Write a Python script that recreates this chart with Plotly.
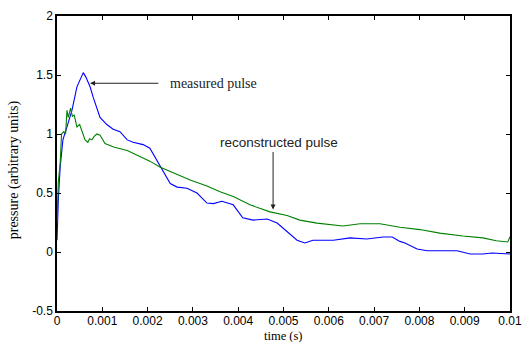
import plotly.graph_objects as go

# measured pulse (blue)
t_meas = [0, 0.00003, 0.00007, 0.00013, 0.00022, 0.00033, 0.00044, 0.00052, 0.00058, 0.00064,
          0.00073, 0.0008, 0.00095, 0.0011, 0.00124, 0.00139, 0.00155, 0.00168, 0.00183, 0.0019,
          0.00205, 0.0022, 0.00234, 0.0025, 0.00265, 0.00287, 0.00309, 0.00331, 0.00345, 0.00364,
          0.00389, 0.0041, 0.00433, 0.00464, 0.00486, 0.00508, 0.0053, 0.00547, 0.00565, 0.0061,
          0.00647, 0.00684, 0.0072, 0.0074, 0.00757, 0.00768, 0.00795, 0.00817, 0.00883, 0.00912,
          0.0094, 0.0096, 0.00978, 0.01]
p_meas = [0.10, 0.45, 0.72, 0.95, 1.06, 1.20, 1.40, 1.47, 1.52, 1.48,
          1.40, 1.31, 1.14, 1.08, 1.04, 1.02, 0.95, 0.93, 0.92, 0.91,
          0.88, 0.78, 0.68, 0.58, 0.55, 0.54, 0.50, 0.415, 0.41, 0.43,
          0.40, 0.29, 0.27, 0.28, 0.245, 0.17, 0.10, 0.076, 0.10, 0.10,
          0.12, 0.11, 0.127, 0.127, 0.09, 0.076, 0.025, 0.01, 0.01, -0.017,
          -0.017, -0.008, -0.01, -0.017]

# reconstructed pulse (green)
t_rec = [0, 0.00003, 0.00007, 0.0001, 0.00015, 0.00019, 0.00022, 0.00025, 0.0003, 0.00034,
         0.00038, 0.00044, 0.0005, 0.00055, 0.00062, 0.00068, 0.00072, 0.00077, 0.00082, 0.00088,
         0.00095, 0.00106, 0.00125, 0.00155, 0.00183, 0.00205, 0.00227, 0.00256, 0.00294, 0.00331,
         0.0036, 0.00389, 0.00426, 0.0047, 0.00508, 0.00536, 0.00574, 0.00631, 0.00669, 0.00713,
         0.00757, 0.00801, 0.00845, 0.00896, 0.0094, 0.0097, 0.00995, 0.01]
p_rec = [0.25, 0.60, 0.75, 1.0, 1.02, 1.0, 1.20, 1.14, 1.22, 1.15,
         1.16, 1.06, 1.08, 1.02, 0.95, 0.93, 0.96, 0.95, 0.98, 1.0,
         0.99, 0.92, 0.89, 0.86, 0.81, 0.77, 0.72, 0.67, 0.61, 0.56,
         0.51, 0.47, 0.40, 0.34, 0.31, 0.27, 0.245, 0.22, 0.24, 0.24,
         0.21, 0.19, 0.16, 0.135, 0.12, 0.095, 0.085, 0.13]

x_ticks = [0, 0.001, 0.002, 0.003, 0.004, 0.005, 0.006, 0.007, 0.008, 0.009, 0.01]
x_labels = ["0", "0.001", "0.002", "0.003", "0.004", "0.005", "0.006", "0.007", "0.008", "0.009", "0.01"]
y_ticks = [-0.5, 0, 0.5, 1, 1.5, 2]
y_labels = ["-0.5", "0", "0.5", "1", "1.5", "2"]

SANS = "Liberation Sans, Arial"
SERIF = "Liberation Serif, Times New Roman"

fig = go.Figure()
fig.add_trace(go.Scatter(x=t_meas, y=p_meas, mode="lines",
                         line=dict(color="#0000FF", width=1.1), showlegend=False))
fig.add_trace(go.Scatter(x=t_rec, y=p_rec, mode="lines",
                         line=dict(color="#008000", width=1.1), showlegend=False))

fig.add_annotation(x=0.00073, y=1.43, ax=0.00227, ay=1.43, axref="x", ayref="y",
                   showarrow=True, arrowhead=2, arrowsize=1, arrowwidth=1, arrowcolor="#222",
                   text="")
fig.add_annotation(x=0.00245, y=1.43, text="measured pulse", showarrow=False,
                   xanchor="left", font=dict(family=SERIF, size=14, color="#222"))
fig.add_annotation(x=0.00477, y=0.36, ax=0.00477, ay=0.86, axref="x", ayref="y",
                   showarrow=True, arrowhead=2, arrowsize=1, arrowwidth=1, arrowcolor="#222",
                   text="")
fig.add_annotation(x=0.0049, y=0.93, text="reconstructed pulse", showarrow=False,
                   xanchor="center", font=dict(family=SANS, size=13.5, color="#222"))

# axis titles as paper-positioned annotations
fig.add_annotation(x=0.5, y=-0.0847, xref="paper", yref="paper", text="time (s)",
                   showarrow=False, xanchor="center", yanchor="middle", borderpad=0,
                   font=dict(family=SERIF, size=12.5, color="black"))
fig.add_annotation(x=-0.093, y=0.48, xref="paper", yref="paper", text="pressure (arbitrary units)",
                   showarrow=False, textangle=-90, xanchor="center", yanchor="middle",
                   font=dict(family=SERIF, size=14, color="black"))

axis_common = dict(showgrid=False, zeroline=False, showline=True, linecolor="black",
                   linewidth=1.5, mirror="ticks", ticks="inside", ticklen=4, automargin=False,
                   tickcolor="black", tickfont=dict(family=SANS, size=12, color="black"))

fig.update_xaxes(range=[0, 0.01], tickvals=x_ticks, ticktext=x_labels,
                 ticklabelstandoff=-2, **axis_common)
fig.update_yaxes(range=[-0.5, 2], tickvals=y_ticks, ticktext=y_labels, **axis_common)

fig.update_layout(width=524, height=342, margin=dict(l=57, r=14, t=16, b=31),
                  plot_bgcolor="white", paper_bgcolor="white")

fig.write_html("out.html")
